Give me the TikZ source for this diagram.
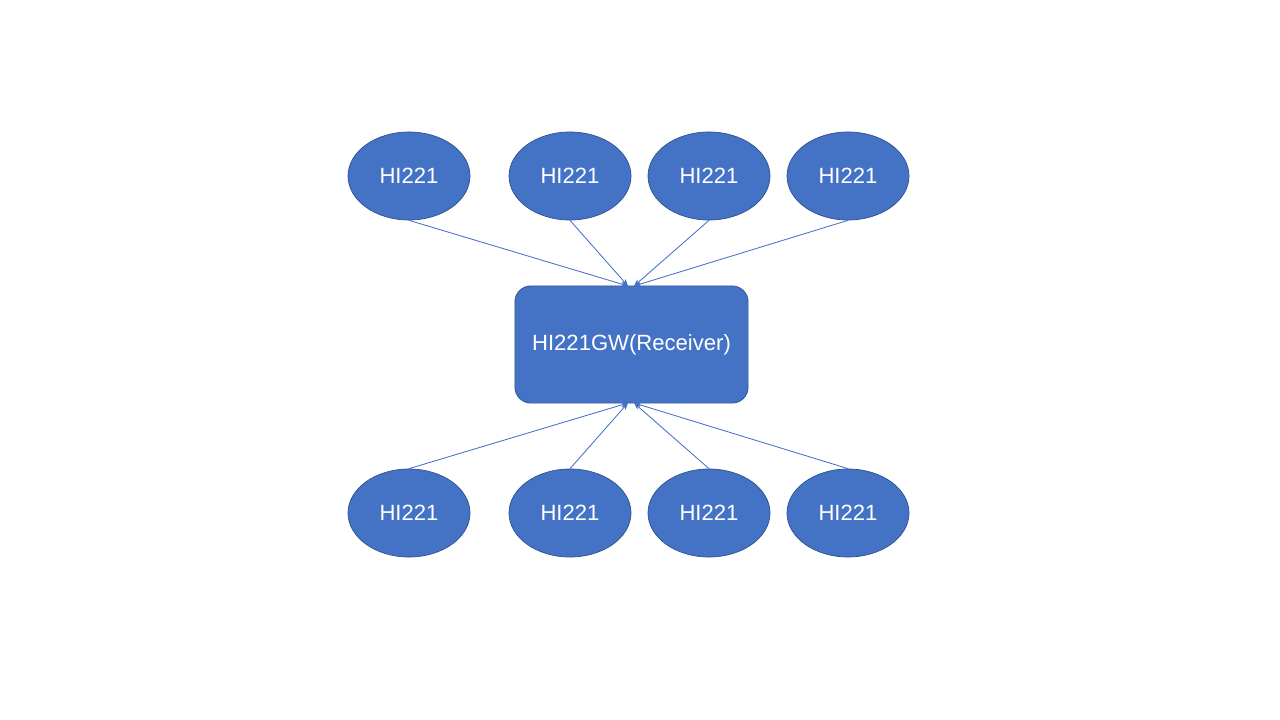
\documentclass[tikz,border=0pt]{standalone}
\usepackage{fontspec}
\setmainfont{Liberation Sans}
\usetikzlibrary{arrows.meta,shapes.geometric}
\definecolor{boxblue}{HTML}{4472C4}
\definecolor{edgeblue}{HTML}{2F528F}
\begin{document}
\begin{tikzpicture}[x=0.025cm,y=-0.025cm,
    sensor/.style={ellipse,draw=edgeblue,fill=boxblue,line width=0.5pt,text=white,
      minimum width=3.05cm,minimum height=2.2cm,inner sep=0pt,font=\fontsize{15.7}{19}\selectfont},
    gateway/.style={rectangle,rounded corners=0.4cm,draw=edgeblue,fill=boxblue,line width=0.5pt,text=white,
      minimum width=5.83cm,minimum height=2.93cm,inner sep=0pt,font=\fontsize{15.7}{19}\selectfont},
    link/.style={-{Stealth[length=5pt,width=4pt]},draw=boxblue,line width=0.6pt}]
                    \useasboundingbox (0,0) rectangle (1280,720);
                    \node[gateway] (gw) at (631.5, 344.5) {HI221GW(Receiver)};
                    \coordinate (gwnl) at (628, 286);
                    \coordinate (gwnr) at (634, 286);
                    \coordinate (gwsl) at (628, 403);
                    \coordinate (gwsr) at (634, 403);
                    \node[sensor] (t1) at (409, 176) {HI221};
                    \node[sensor] (t2) at (570, 176) {HI221};
                    \node[sensor] (t3) at (709, 176) {HI221};
                    \node[sensor] (t4) at (848, 176) {HI221};
                    \node[sensor] (b1) at (409, 513) {HI221};
                    \node[sensor] (b2) at (570, 513) {HI221};
                    \node[sensor] (b3) at (709, 513) {HI221};
                    \node[sensor] (b4) at (848, 513) {HI221};
                    \draw[link] (t1.south) -- (gwnl);
                    \draw[link] (t2.south) -- (gwnl);
                    \draw[link] (t3.south) -- (gwnr);
                    \draw[link] (t4.south) -- (gwnr);
                    \draw[link] (b1.north) -- (gwsl);
                    \draw[link] (b2.north) -- (gwsl);
                    \draw[link] (b3.north) -- (gwsr);
                    \draw[link] (b4.north) -- (gwsr);
                \end{tikzpicture}
\end{document}
